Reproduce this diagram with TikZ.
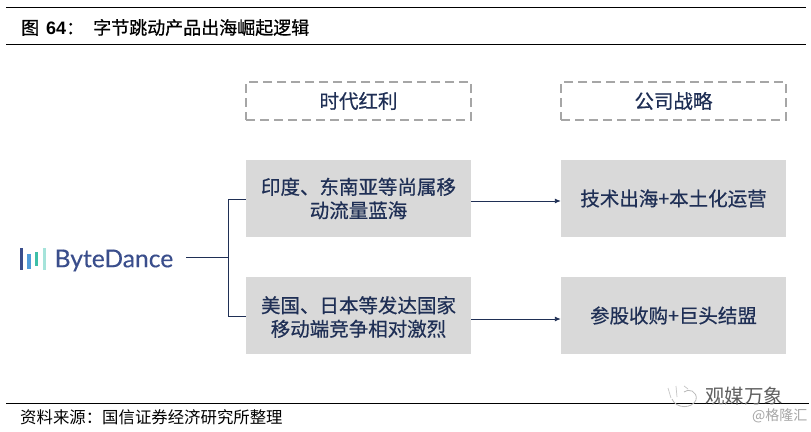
\documentclass[tikz,border=0pt]{standalone}
\usepackage{fontspec}
\setmainfont{Liberation Sans}
\newfontfamily\cjk{Noto Sans CJK SC}
\newfontfamily\cjkb[FakeBold=0.6]{Noto Sans CJK SC}
\newfontfamily\logofont[FakeBold=0.3]{Lato}
\usetikzlibrary{arrows.meta}
\definecolor{navy}{HTML}{1F2F55}
\definecolor{boxgray}{HTML}{D9D9D9}
\definecolor{dashgray}{HTML}{A6A6A6}
\definecolor{logoblue}{HTML}{3A4E8C}
\definecolor{logosky}{HTML}{4F9BD9}
\definecolor{logoteal}{HTML}{3DBFA8}
\definecolor{logomint}{HTML}{A5E3DA}
\tikzset{
  x=1pt,y=-1pt,
  graybox/.style={fill=boxgray,draw=none,minimum width=225pt,minimum height=77pt,inner sep=0pt,align=center,text=navy,font=\cjkb\fontsize{19.5}{23.5}\selectfont},
  boxtext/.style={inner sep=0pt,align=center,text=navy,font=\cjkb\fontsize{19.5}{23.5}\selectfont},
  headbox/.style={draw=dashgray,line width=1.2pt,dash pattern=on 9pt off 5pt,minimum width=225pt,minimum height=38pt,inner sep=0pt,align=center,text=navy,font=\cjkb\fontsize{19.5}{22}\selectfont},
  rulek/.style={line width=1pt,black},
  wire/.style={line width=0.9pt,color=navy},
  arrowwire/.style={wire,-{Latex[length=6pt,width=5pt]}},
  logobar/.style={line width=3.4pt}
}
\begin{document}
\begin{tikzpicture}
\useasboundingbox (0,0) rectangle (811,431);
\fill[white] (0,0) rectangle (811,431);
% rules
\coordinate (t1a) at (6,7); \coordinate (t1b) at (806,7);
\coordinate (t2a) at (6,44); \coordinate (t2b) at (806,44);
\coordinate (b1a) at (6,403); \coordinate (b1b) at (809,403);
\draw[rulek] (t1a) -- (t1b);
\draw[rulek] (t2a) -- (t2b);
\draw[rulek] (b1a) -- (b1b);
% title and source
\node[anchor=west,inner sep=0pt,font=\fontsize{18}{20}\selectfont] (title) at (21,27.5) {{\cjkb 图}\hspace{7pt}\textbf{64}{\cjkb ：}\hspace{9pt}{\cjkb 字节跳动产品出海崛起逻辑}};
\node[anchor=west,inner sep=0pt,font=\cjk\fontsize{16.4}{18}\selectfont] (source) at (20,417) {资料来源：国信证券经济研究所整理};
% head boxes
\node[headbox] (h1) at (358.5,101) {时代红利};
\node[headbox] (h2) at (673.5,101) {公司战略};
% gray boxes
\node[graybox] (a1) at (358.5,198.5) {印度、东南亚等尚属移\\动流量蓝海};
\node[graybox] (a2) at (358.5,315.5) {};
\node[boxtext] (a2text) at (358.5,317) {美国、日本等发达国家\\移动端竞争相对激烈};
\node[graybox] (b1) at (673.5,198.5) {技术出海+本土化运营};
\node[graybox] (b2) at (673.5,315.5) {参股收购+巨头结盟};
% logo
\draw[logobar,logoblue] (21.5,248) -- (21.5,270);
\draw[logobar,logosky] (29,254) -- (29,269);
\draw[logobar,logoteal] (36.5,252) -- (36.5,266);
\draw[logobar,logomint] (44.5,248) -- (44.5,270);
\node[anchor=west,inner sep=0pt,text=logoblue,font=\logofont\fontsize{24.6}{26}\selectfont] (logo) at (54.5,260.5) {ByteDance};
% connectors
\coordinate (stem) at (186,257);
\coordinate (junction) at (228,257);
\draw[wire] (stem) -- (junction);
\draw[wire] (junction) |- (a1.west |- 0,199);
\draw[wire] (junction) |- (a2.west |- 0,316);
\draw[arrowwire] (a1.east |- 0,201) -- (b1.west |- 0,201);
\draw[arrowwire] (a2.east |- 0,319) -- (b2.west |- 0,319);
% watermark
\draw[gray!55,line width=0.8pt] (672,399) .. controls (676,409) and (692,409) .. (696,400) .. controls (698,391) and (688,388) .. (684,392);
\draw[gray!45,line width=0.7pt] (668,388) -- (671,398) (676,386) -- (677,397) (684,386) -- (688,389);
\node[anchor=west,inner sep=0pt,text=gray!75!black,font=\cjk\fontsize{19.5}{20}\selectfont] (wm) at (705,396) {观媒万象};
\node[anchor=west,inner sep=0pt,text=gray!70,font=\cjk\fontsize{14}{15}\selectfont] (wm2) at (752,416) {@格隆汇};
\end{tikzpicture}
\end{document}
